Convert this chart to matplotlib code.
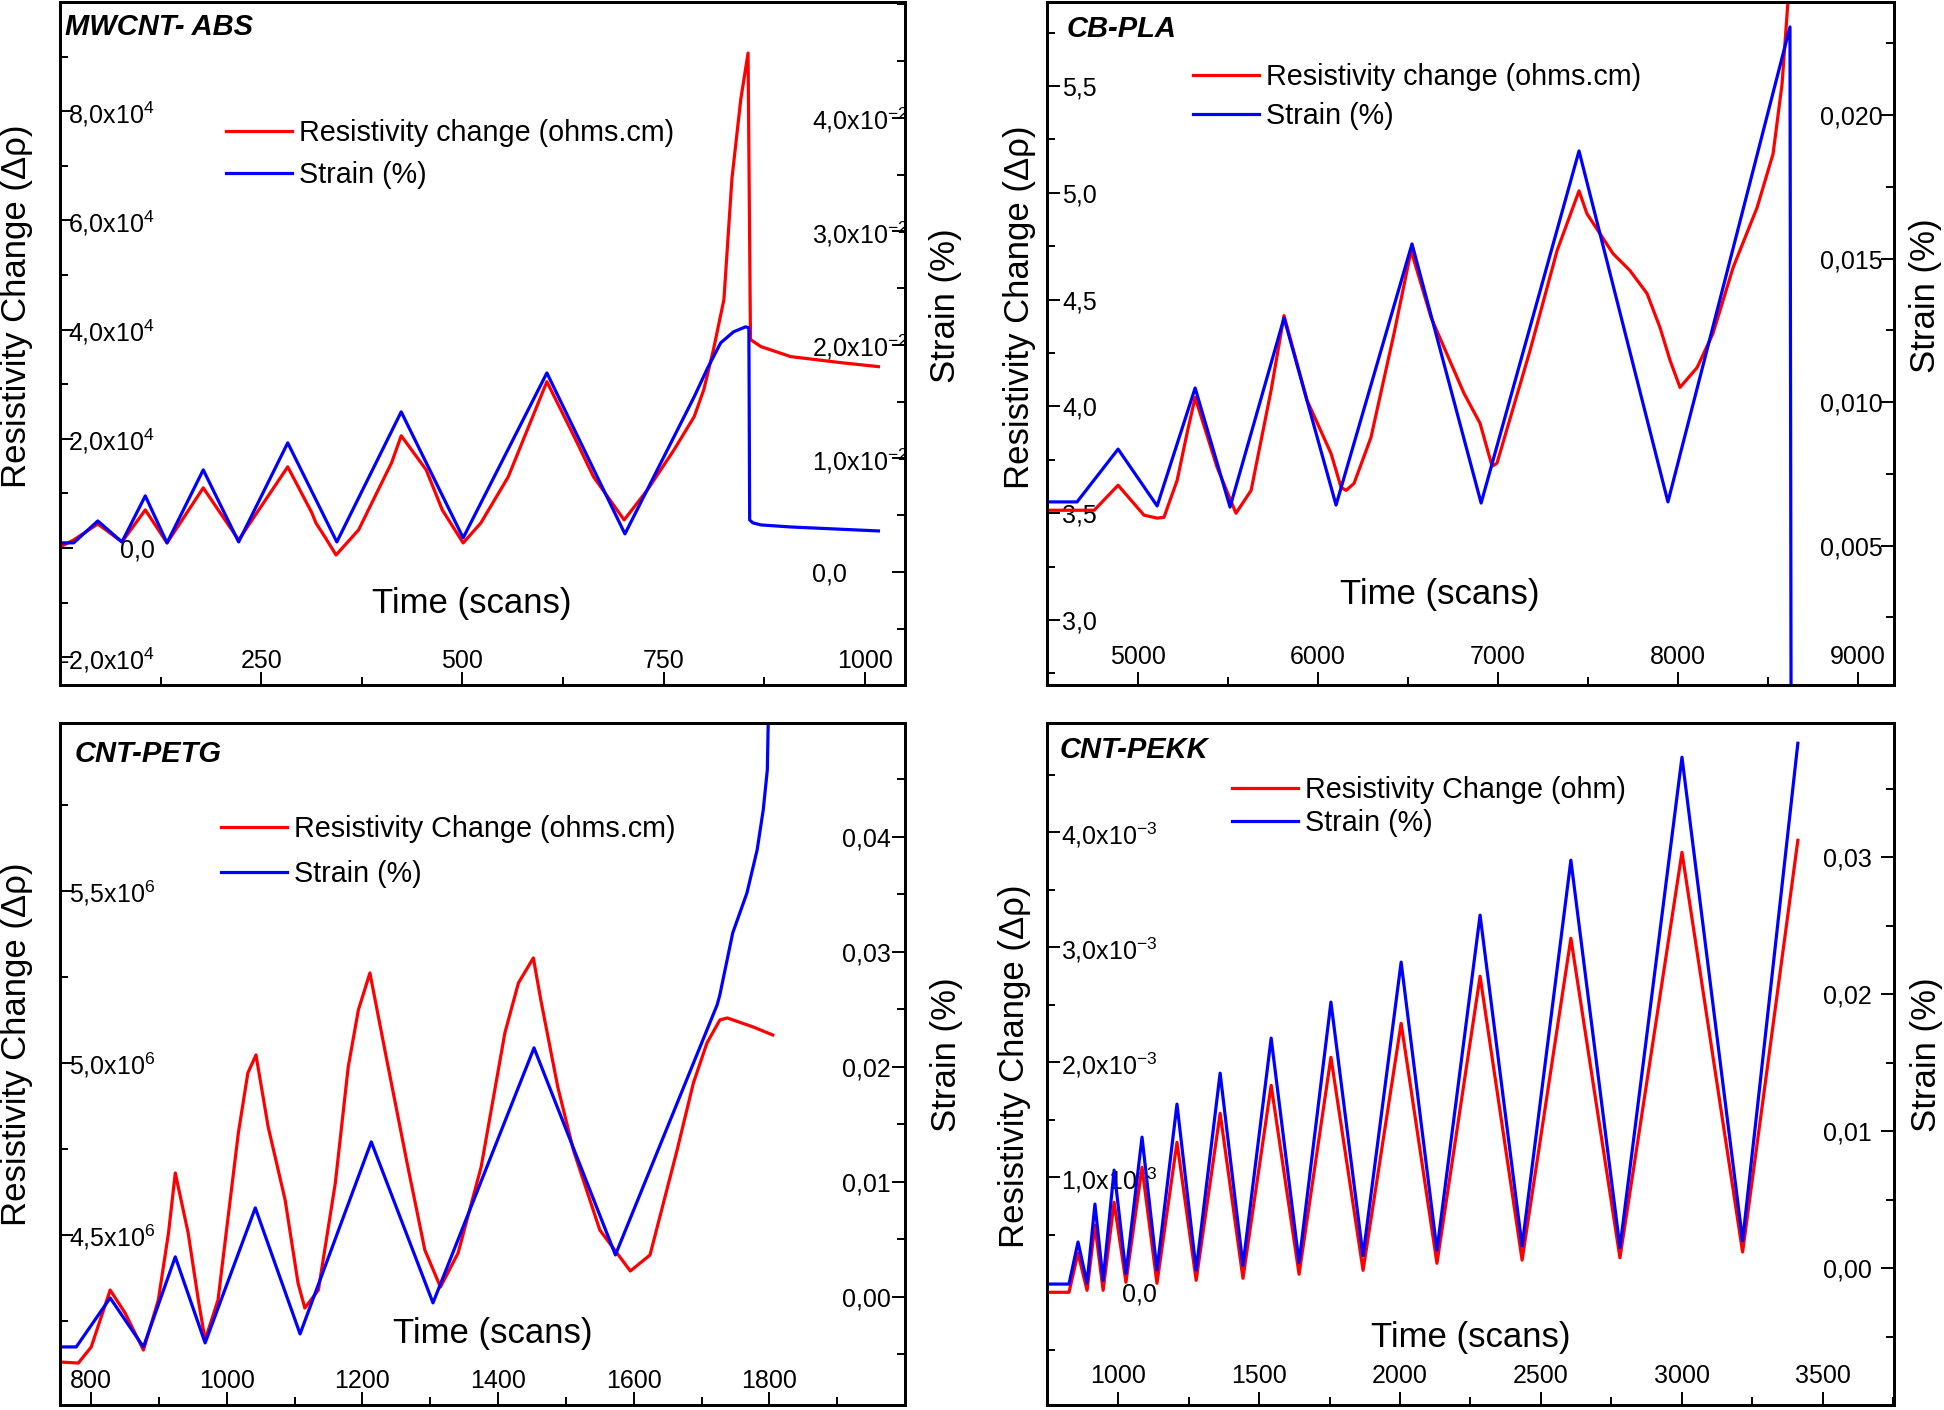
import matplotlib
matplotlib.use("Agg")
import matplotlib.pyplot as plt
from matplotlib.ticker import MultipleLocator

# ----------------------------------------------------------------------------------------------------------------------
plt.rcParams['font.family'] = ['Liberation Sans', 'DejaVu Sans']
plt.rcParams['mathtext.default'] = 'regular'
plt.rcParams['axes.linewidth'] = 2.0

NARROW = ['Liberation Sans Narrow', 'Liberation Sans', 'DejaVu Sans']
RED = '#ff0000'
BLUE = '#0000ff'
PT = 0.72          # points per pixel at dpi 100

# ----------------------------------------------------------------------------------------------------------------------
# MWCNT- ABS
abs_scan_res = [0, 17, 47, 77, 106, 133, 178, 222, 283, 313, 318, 330, 343, 371, 412, 424, 455, 475, 501, 523, 557,
                605, 639, 663, 701, 730, 763, 788, 800, 812, 825, 835, 846, 855, 858, 871, 908, 970, 1017]
abs_res = [184, 1468, 4404, 1101, 6973, 918, 11010, 1468, 14864, 6423, 4588, 1835, -1285, 3303, 15598, 20552, 14313,
           6973, 918, 4588, 13029, 30461, 20369, 13029, 5138, 10643, 17983, 24039, 28993, 36333, 45508, 67712, 82208,
           90649, 38168, 36884, 35049, 33948, 33213]
abs_scan_strain = [0, 17, 47, 77, 106, 133, 178, 222, 283, 344, 424, 501, 605, 702, 788, 805, 821, 837, 852, 856, 857,
                   861, 871, 908, 1017]
abs_strain = [0.00256, 0.00256, 0.00449, 0.00264, 0.00670, 0.00256, 0.00899, 0.00264, 0.01137, 0.00264, 0.01410,
              0.00300, 0.01753, 0.00335, 0.01542, 0.01800, 0.02018, 0.02115, 0.02159, 0.02150, 0.00458, 0.00432,
              0.00414, 0.00396, 0.00361]
abs_xticks = [250, 500, 750, 1000]
abs_xlabels = ['250', '500', '750', '1000']
abs_lticks = [-2e4, 0, 2e4, 4e4, 6e4, 8e4]
abs_llabels = ['-2,0x10$^{4}$', '0,0', '2,0x10$^{4}$', '4,0x10$^{4}$', '6,0x10$^{4}$', '8,0x10$^{4}$']
abs_rticks = [0, 0.01, 0.02, 0.03, 0.04]
abs_rlabels = ['0,0', '1,0x10$^{-2}$', '2,0x10$^{-2}$', '3,0x10$^{-2}$', '4,0x10$^{-2}$']

# CB-PLA
pla_scan_res = [4500, 4756, 4889, 5033, 5106, 5144, 5217, 5272, 5317, 5439, 5544, 5628, 5739, 5811, 5939, 6072, 6128,
                6156, 6200, 6294, 6422, 6517, 6628, 6811, 6900, 6967, 6994, 7178, 7328, 7450, 7494, 7639, 7733, 7828,
                7900, 7956, 8011, 8106, 8194, 8306, 8439, 8528, 8578, 8611, 8625]
pla_res = [3.514, 3.514, 3.631, 3.491, 3.477, 3.481, 3.654, 3.874, 4.042, 3.715, 3.500, 3.607, 4.075, 4.425, 4.028,
           3.780, 3.621, 3.607, 3.640, 3.855, 4.341, 4.729, 4.416, 4.061, 3.921, 3.720, 3.734, 4.262, 4.729, 5.009,
           4.902, 4.715, 4.636, 4.528, 4.369, 4.215, 4.089, 4.182, 4.341, 4.650, 4.930, 5.182, 5.509, 5.897, 6.0]
pla_scan_strain = [4500, 4661, 4889, 5106, 5317, 5511, 5811, 6100, 6522, 6906, 7450, 7944, 8622, 8628]
pla_strain = [0.00652, 0.00652, 0.00836, 0.00638, 0.01049, 0.00634, 0.01293, 0.00641, 0.01551, 0.00648, 0.01875,
              0.00652, 0.02307, 0.0]
pla_xticks = [5000, 6000, 7000, 8000, 9000]
pla_xlabels = ['5000', '6000', '7000', '8000', '9000']
pla_lticks = [3.0, 3.5, 4.0, 4.5, 5.0, 5.5]
pla_llabels = ['3,0', '3,5', '4,0', '4,5', '5,0', '5,5']
pla_rticks = [0.005, 0.010, 0.015, 0.020]
pla_rlabels = ['0,005', '0,010', '0,015', '0,020']

# CNT-PETG
petg_scan_res = [755, 781, 800, 828, 850, 877, 899, 914, 924, 943, 958, 968, 987, 1017, 1031, 1043, 1061, 1086, 1105,
                 1115, 1135, 1160, 1179, 1194, 1211, 1233, 1267, 1292, 1315, 1341, 1375, 1410, 1430, 1452, 1463, 1488,
                 1511, 1550, 1595, 1624, 1664, 1688, 1708, 1727, 1738, 1776, 1805]
petg_res = [4.1308e6, 4.1279e6, 4.1744e6, 4.3401e6, 4.2733e6, 4.1657e6, 4.3110e6, 4.5058e6, 4.6802e6, 4.5058e6,
            4.3110e6, 4.1948e6, 4.3110e6, 4.7965e6, 4.9709e6, 5.0233e6, 4.8140e6, 4.6017e6, 4.3605e6, 4.2878e6,
            4.3401e6, 4.6512e6, 4.9884e6, 5.1541e6, 5.2616e6, 5.0378e6, 4.6977e6, 4.4564e6, 4.3488e6, 4.4477e6,
            4.6977e6, 5.0872e6, 5.2326e6, 5.3052e6, 5.1831e6, 4.9302e6, 4.7471e6, 4.5145e6, 4.3954e6, 4.4419e6,
            4.7471e6, 4.9419e6, 5.0581e6, 5.1250e6, 5.1308e6, 5.1047e6, 5.0814e6]
petg_scan_strain = [755, 778, 828, 877, 924, 968, 1042, 1108, 1213, 1304, 1453, 1573, 1723, 1727, 1746, 1767, 1782,
                    1791, 1797, 1799]
petg_strain = [-0.00435, -0.00435, -0.00009, -0.00435, 0.00348, -0.00400, 0.00774, -0.00322, 0.01348, -0.00052,
               0.02165, 0.00365, 0.02539, 0.02626, 0.03165, 0.03513, 0.03887, 0.04235, 0.04583, 0.05200]
petg_xticks = [800, 1000, 1200, 1400, 1600, 1800]
petg_xlabels = ['800', '1000', '1200', '1400', '1600', '1800']
petg_lticks = [4.5e6, 5.0e6, 5.5e6]
petg_llabels = ['4,5x10$^{6}$', '5,0x10$^{6}$', '5,5x10$^{6}$']
petg_rticks = [0.0, 0.01, 0.02, 0.03, 0.04]
petg_rlabels = ['0,00', '0,01', '0,02', '0,03', '0,04']

# CNT-PEKK
pekk_scan = [750, 826, 858, 890, 918, 947, 986, 1028, 1085, 1138, 1209, 1277, 1362, 1443, 1543, 1642, 1755, 1869,
             2004, 2131, 2284, 2433, 2606, 2780, 3000, 3215, 3411]
pekk_res = [0.0, 0.0, 0.34e-3, 0.017e-3, 0.583e-3, 0.017e-3, 0.783e-3, 0.087e-3, 1.087e-3, 0.078e-3, 1.304e-3,
            0.104e-3, 1.557e-3, 0.122e-3, 1.800e-3, 0.157e-3, 2.043e-3, 0.191e-3, 2.339e-3, 0.252e-3, 2.748e-3,
            0.280e-3, 3.078e-3, 0.300e-3, 3.826e-3, 0.350e-3, 3.930e-3]
pekk_strain = [-0.00117, -0.00117, 0.0019, -0.0011, 0.00467, -0.0009, 0.00715, -0.0004, 0.00956, -0.00015, 0.01197,
               -0.00015, 0.01423, 0.0002, 0.01679, 0.0004, 0.01942, 0.0009, 0.02234, 0.0013, 0.02577, 0.0016,
               0.02978, 0.0015, 0.0373, 0.0020, 0.03832]
pekk_xticks = [1000, 1500, 2000, 2500, 3000, 3500]
pekk_xlabels = ['1000', '1500', '2000', '2500', '3000', '3500']
pekk_lticks = [0.0, 1e-3, 2e-3, 3e-3, 4e-3]
pekk_llabels = ['0,0', '1,0x10$^{-3}$', '2,0x10$^{-3}$', '3,0x10$^{-3}$', '4,0x10$^{-3}$']
pekk_rticks = [0.0, 0.01, 0.02, 0.03]
pekk_rlabels = ['0,00', '0,01', '0,02', '0,03']


# ----------------------------------------------------------------------------------------------------------------------
def draw_panel(fig, rect, title, title_xy, res_x, res_y, str_x, str_y, xlim, ylim_l, ylim_r,
               xticks, xlabels, x_minor, lticks, llabels, l_minor, rticks, rlabels, r_minor,
               pads, res_label, leg_xy, leg_space, ylab_l_xy, ylab_r_xy, xlab_xy):

    ax = fig.add_axes(rect)
    tw = ax.twinx()

    # tick styling (inward ticks, labels pushed inside the frame)
    for a in (ax, tw):
        a.tick_params(which='both', direction='in', width=1.4, labelsize=18, labelfontfamily=NARROW)
        a.tick_params(which='major', length=9.4)
        a.tick_params(which='minor', length=5.8)
    ax.tick_params(axis='x', which='both', top=False, pad=-pads[2] * PT)
    ax.tick_params(axis='y', which='both', right=False, pad=-pads[0] * PT)
    tw.tick_params(axis='y', which='both', left=False, pad=-pads[1] * PT)

    l1, = ax.plot(res_x, res_y, color=RED, lw=2.3)
    l2, = tw.plot(str_x, str_y, color=BLUE, lw=2.3)

    ax.set_xlim(*xlim)
    ax.set_ylim(*ylim_l)
    tw.set_ylim(*ylim_r)

    ax.set_xticks(xticks, xlabels, va='baseline')
    ax.xaxis.set_minor_locator(MultipleLocator(x_minor))
    ax.set_yticks(lticks, llabels)
    ax.yaxis.set_minor_locator(MultipleLocator(l_minor))
    tw.set_yticks(rticks, rlabels, ha='left')
    tw.yaxis.set_minor_locator(MultipleLocator(r_minor))

    ax.set_xlabel('Time (scans)', fontsize=25, va='baseline')
    ax.xaxis.set_label_coords(*xlab_xy)
    ax.set_ylabel('Resistivity Change (\u0394\u03c1)', fontsize=25, va='center')
    ax.yaxis.set_label_coords(*ylab_l_xy)
    tw.set_ylabel('Strain (%)', fontsize=25, va='center')
    tw.yaxis.set_label_coords(*ylab_r_xy)

    ax.text(title_xy[0], title_xy[1], title, transform=ax.transAxes, fontsize=21,
            fontweight='bold', fontstyle='italic', ha='left', va='center')

    tw.legend([l1, l2], [res_label, 'Strain (%)'], loc='upper left', bbox_to_anchor=leg_xy,
              frameon=False, fontsize=20.7, borderpad=0, borderaxespad=0, handlelength=2.3,
              handletextpad=0.25, labelspacing=leg_space)
    return ax, tw


if __name__ == "__main__":

    fig = plt.figure(figsize=(19.44, 14.10), dpi=100)

    draw_panel(fig, [0.03086, 0.51418, 0.43467, 0.48440], 'MWCNT- ABS', (0.006, 0.964),
               abs_scan_res, abs_res, abs_scan_strain, abs_strain,
               (0, 1050), (-2.51e4, 1.0e5), (-0.00996, 0.0502),
               abs_xticks, abs_xlabels, 125, abs_lticks, abs_llabels, 1e4, abs_rticks, abs_rlabels, 0.005,
               (95, 93, 17), 'Resistivity change (ohms.cm)', (0.1964, 0.828), 0.46,
               (-0.0509, 0.555), (1.0485, 0.556), (0.4876, 0.1054))

    draw_panel(fig, [0.53858, 0.51418, 0.43570, 0.48440], 'CB-PLA', (0.0236, 0.960),
               pla_scan_res, pla_res, pla_scan_strain, pla_strain,
               (4494, 9200), (2.696, 5.893), (0.00014, 0.02394),
               pla_xticks, pla_xlabels, 500, pla_lticks, pla_llabels, 0.25, pla_rticks, pla_rlabels, 0.0025,
               (50, 74, 21), 'Resistivity change (ohms.cm)', (0.172, 0.911), 0.40,
               (-0.0319, 0.553), (1.0366, 0.5695), (0.464, 0.118))

    draw_panel(fig, [0.03086, 0.003546, 0.43467, 0.48369], 'CNT-PETG', (0.0178, 0.955),
               petg_scan_res, petg_res, petg_scan_strain, petg_strain,
               (754, 2000), (4.006e6, 5.988e6), (-0.0094, 0.0499),
               petg_xticks, petg_xlabels, 100, petg_lticks, petg_llabels, 0.25e6, petg_rticks, petg_rlabels, 0.005,
               (95, 63, 17), 'Resistivity Change (ohms.cm)', (0.1905, 0.865), 0.58,
               (-0.0509, 0.529), (1.0497, 0.513), (0.5125, 0.0909))

    draw_panel(fig, [0.53858, 0.003546, 0.43570, 0.48369], 'CNT-PEKK', (0.0153, 0.961),
               pekk_scan, pekk_res, pekk_scan, pekk_strain,
               (748, 3752), (-0.98e-3, 4.95e-3), (-0.0100, 0.0398),
               pekk_xticks, pekk_xlabels, 250, pekk_lticks, pekk_llabels, 0.5e-3, pekk_rticks, pekk_rlabels, 0.005,
               (110, 71, 22), 'Resistivity Change (ohm)', (0.2184, 0.922), 0.18,
               (-0.0378, 0.497), (1.0378, 0.513), (0.5006, 0.085))

    fig.savefig('out.png', dpi=100)
